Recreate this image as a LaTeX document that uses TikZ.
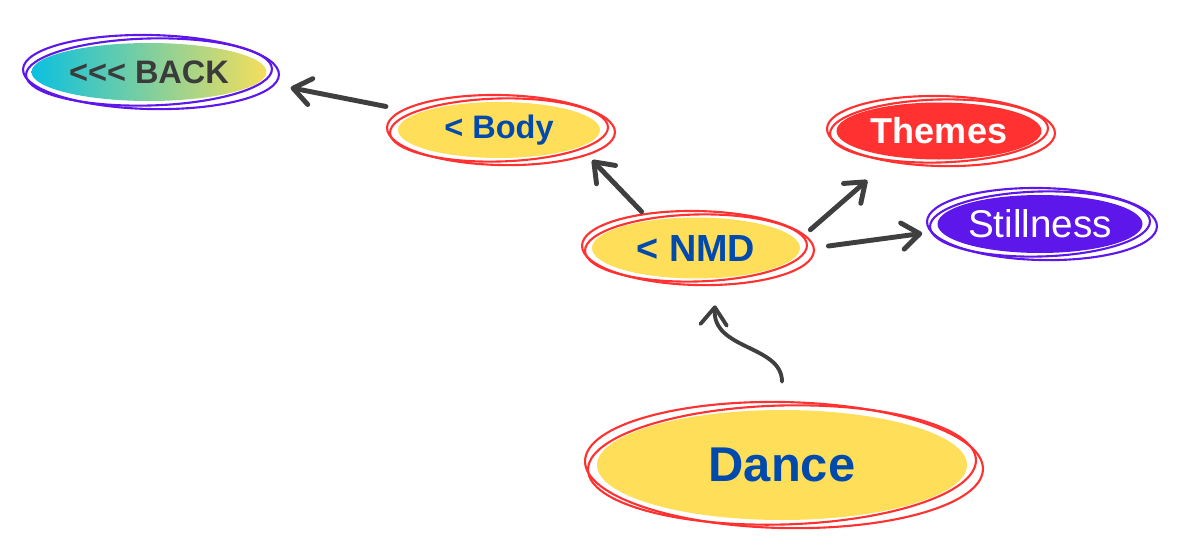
\documentclass[tikz,border=0pt]{standalone}
\usepackage{fontspec}
\setmainfont{Liberation Sans}
\usetikzlibrary{arrows.meta,shapes.geometric,calc}
\definecolor{bubblefill}{HTML}{FFDE59}
\definecolor{inkred}{HTML}{FF3131}
\definecolor{inkpurple}{HTML}{5E17EB}
\definecolor{labelblue}{HTML}{004AAD}
\definecolor{backleft}{HTML}{0CC0DF}
\definecolor{backright}{HTML}{F4DE5C}
\definecolor{backtext}{HTML}{3B3B3B}
\definecolor{arrowc}{HTML}{3F3F3F}

% two loose strokes round a bubble: node, colour, x radius, y radius
\newcommand{\scribblering}[4]{%
  \begin{scope}[shift={(#1.center)}]
    \draw[ring=#2, rotate=1.5] (0,0) ellipse [x radius=#3, y radius=#4];
    \draw[ring=#2, rotate=-1.2] (0.04,0) ellipse [x radius=#3+0.1, y radius=#4+0.07];
  \end{scope}}

\begin{document}
\begin{tikzpicture}[
  bubble/.style={
    ellipse,
    fill=#1,
    inner sep=0pt,
    font=\bfseries
  },
  ring/.style={
    draw=#1,
    line width=1.2pt
  },
  arr/.style={
    -{Straight Barb[round,length=10pt,width=15pt]},
    line width=2.8pt,
    line cap=round,
    draw=arrowc
  }
]
\useasboundingbox (0,0) rectangle (23.6,-11.08);

% --- bubbles ---
\node[ellipse, inner sep=0pt, left color=backleft, right color=backright,
  minimum width=4.7cm, minimum height=1.16cm, text=backtext,
  font=\bfseries\fontsize{18.5}{20}\selectfont] (back) at (2.98,-1.44) {{<}{<}{<} BACK};
\node[bubble=bubblefill, minimum width=4.04cm, minimum height=1.12cm, text=labelblue,
  font=\bfseries\fontsize{18.5}{20}\selectfont] (body) at (9.98,-2.6) {< Body};
\node[bubble=bubblefill, minimum width=4.16cm, minimum height=1.22cm, text=labelblue,
  font=\bfseries\fontsize{21.5}{23}\selectfont] (nmd) at (13.92,-4.96) {< NMD};
\node[bubble=inkred, minimum width=4.1cm, minimum height=1.14cm, text=white,
  font=\bfseries\fontsize{20.5}{22}\selectfont] (themes) at (18.78,-2.62) {Themes};
\node[bubble=inkpurple, minimum width=4.1cm, minimum height=1.16cm, text=white,
  font=\fontsize{22}{24}\selectfont] (stillness) at (20.8,-4.48) {Stillness};
\node[bubble=bubblefill, minimum width=7.4cm, minimum height=2.2cm, text=labelblue,
  font=\bfseries\fontsize{27.8}{30}\selectfont] (dance) at (15.64,-9.3) {Dance};

% --- sketchy outlines ---
\scribblering{back}{inkpurple}{2.46}{0.67}
\scribblering{body}{inkred}{2.18}{0.63}
\scribblering{nmd}{inkred}{2.22}{0.67}
\scribblering{themes}{inkred}{2.18}{0.63}
\scribblering{stillness}{inkpurple}{2.2}{0.65}
\scribblering{dance}{inkred}{3.88}{1.19}

% --- arrows ---
\draw[arr, shorten <=0.66cm, shorten >=0.62cm] (body.168.6) -- (back.-5.1);
\draw[arr, shorten <=0.24cm, shorten >=0.36cm] (nmd.149) -- (body.-12);
\draw[arr, shorten <=0.34cm, shorten >=0.71cm] (nmd.4) -- (themes.-150);
\draw[arr, shorten <=0.57cm, shorten >=0.36cm] (nmd.-1.7) -- (stillness.-176.4);

% wavy link from Dance up to NMD
\draw[arr, line width=2.2pt]
  ($(dance.north)+(0,0.56)$) .. controls +(0,0.74) and +(-0.06,-0.9) .. ($(nmd.-58)+(0,-0.54)$);

\end{tikzpicture}
\end{document}
